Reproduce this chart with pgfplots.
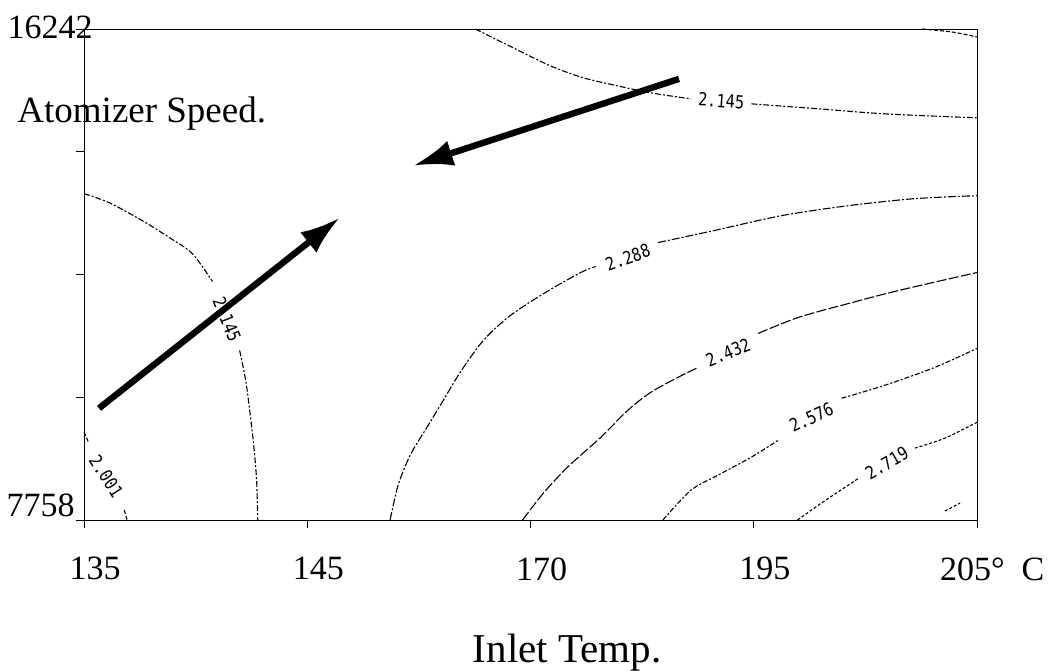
\documentclass[border=0pt]{standalone}
\usepackage{pgfplots}
\pgfplotsset{compat=1.18}
\usetikzlibrary{arrows.meta}
\usepackage{fontspec}
\setmainfont{Liberation Serif}
\newfontfamily\monofam{DejaVu Sans Mono}

% contour level styles
\tikzset{
  lev/.style={black, line width=0.55pt, smooth, mark=none},
  l2001/.style={lev, dash pattern=on 2pt off 1pt},
  l2145/.style={lev, dash pattern=on 3pt off 1pt on 1pt off 1pt},
  l2288/.style={lev, dash pattern=on 4pt off 1pt on 1pt off 1pt},
  l2432/.style={lev, dash pattern=on 5pt off 1.2pt},
  l2576/.style={lev, dash pattern=on 2.5pt off 1pt on 1pt off 1pt},
  l2719/.style={lev, dash pattern=on 1.5pt off 1pt},
  clab/.style={font=\monofam\fontsize{9}{10}\selectfont, inner sep=0pt, anchor=center},
  bigarrow/.style={black, line width=3.2pt, mark=none, -{Latex[length=20pt,width=13pt]}},
}
\newcommand{\cl}[1]{\scalebox{0.85}[1]{#1}}

\begin{document}
\begin{tikzpicture}
\begin{axis}[
  scale only axis, width=446.5pt, height=245.5pt,
  xmin=0, xmax=4, ymin=7758, ymax=16242,
  clip=false,
  axis line style={black, line width=0.5pt},
  xtick={0,1,2,3,4},
  xticklabels={135,145,170,195,{\makebox[0pt][l]{\hspace*{-24pt}205°\enspace C}}},
  ytick={7758,9879,12000,14121,16242},
  yticklabels={},
  scaled y ticks=false,
  xtick pos=bottom, ytick pos=left,
  tick align=outside, major tick length=4pt,
  tick style={black, line width=0.5pt},
  xticklabel style={font=\fontsize{17}{20}\selectfont, anchor=north, inner sep=0pt, xshift=5.5pt, yshift=-14.5pt},
  xlabel={Inlet Temp.},
  xlabel style={font=\fontsize{20.5}{24}\selectfont, at={(rel axis cs:0.541,0)}, anchor=base, yshift=-71pt, inner sep=0pt},
]

% level 2.145, upper branch
\addplot[l2145] coordinates {(1.753,16242) (1.924,15914) (2.090,15604) (2.238,15397) (2.391,15259) (2.539,15138) (2.719,15035)};
\addplot[l2145] coordinates {(2.989,14949) (3.290,14863) (3.587,14776) (4.000,14707)};
\node[clab, rotate=-4] at (axis cs:2.854,15000) {\cl{2.145}};

% upper right corner
\addplot[l2001] coordinates {(3.753,16242) (3.888,16190) (4.000,16104)};

% level 2.145, left branch
\addplot[l2145] coordinates {(0,13397) (0.112,13242) (0.261,12931) (0.382,12638) (0.485,12362) (0.575,11880)};
\addplot[l2145] coordinates {(0.697,10689) (0.724,10172) (0.742,9655) (0.760,9051) (0.773,8448) (0.778,7758)};
\node[clab, rotate=-68] at (axis cs:0.640,11224) {\cl{2.145}};

% level 2.001
\addplot[l2001] coordinates {(0,9275) (0.022,9086)};
\addplot[l2001] coordinates {(0.180,7930) (0.193,7758)};
\node[clab, rotate=-57] at (axis cs:0.099,8517) {\cl{2.001}};

% level 2.288
\addplot[l2288] coordinates {(1.371,7758) (1.407,8362) (1.461,8879) (1.528,9310) (1.596,9741) (1.685,10310) (1.789,10862) (1.910,11293) (2.067,11690) (2.225,12035) (2.292,12138)};
\addplot[l2288] coordinates {(2.571,12552) (2.822,12759) (3.124,13017) (3.425,13190) (3.721,13311) (4.000,13362)};
\node[clab, rotate=20] at (axis cs:2.436,12293) {\cl{2.288}};

% level 2.432
\addplot[l2432] coordinates {(1.964,7758) (2.058,8224) (2.166,8672) (2.315,9189) (2.436,9655) (2.539,9965) (2.661,10224) (2.751,10396)};
\addplot[l2432] coordinates {(3.020,10983) (3.200,11259) (3.425,11500) (3.649,11724) (4.000,12035)};
\node[clab, rotate=22] at (axis cs:2.885,10655) {\cl{2.432}};

% level 2.576
\addplot[l2576] coordinates {(2.593,7758) (2.719,8275) (2.840,8534) (2.989,8844) (3.110,9138)};
\addplot[l2576] coordinates {(3.393,9862) (3.587,10086) (3.811,10396) (4.000,10724)};
\node[clab, rotate=25] at (axis cs:3.258,9534) {\cl{2.576}};

% level 2.719
\addplot[l2719] coordinates {(3.196,7758) (3.303,8051) (3.470,8482)};
\addplot[l2719] coordinates {(3.721,9000) (3.856,9172) (4.000,9448)};
\node[clab, rotate=30] at (axis cs:3.596,8741) {\cl{2.719}};

% start of the next level, bottom right
\addplot[l2719] coordinates {(3.856,7913) (3.924,8051)};

% direction arrows
\addplot[bigarrow] coordinates {(0.067,9689) (1.146,12983)};
\addplot[bigarrow] coordinates {(2.665,15380) (1.474,13880)};

% axis end values and title
\node[anchor=east, inner sep=0pt, font=\fontsize{17}{20}\selectfont, xshift=4.5pt, yshift=0.8pt] at (rel axis cs:0,1) {16242};
\node[anchor=south east, inner sep=0pt, font=\fontsize{17}{20}\selectfont, xshift=-4.5pt, yshift=1.5pt] at (rel axis cs:0,0) {7758};
\node[anchor=base west, inner sep=0pt, font=\fontsize{18.5}{22}\selectfont] at (rel axis cs:-0.075,0.8106) {Atomizer Speed.};

% page extent
\path (rel axis cs:-0.0941,1.0591) rectangle (rel axis cs:1.0929,-0.3075);
\end{axis}
\end{tikzpicture}
\end{document}
